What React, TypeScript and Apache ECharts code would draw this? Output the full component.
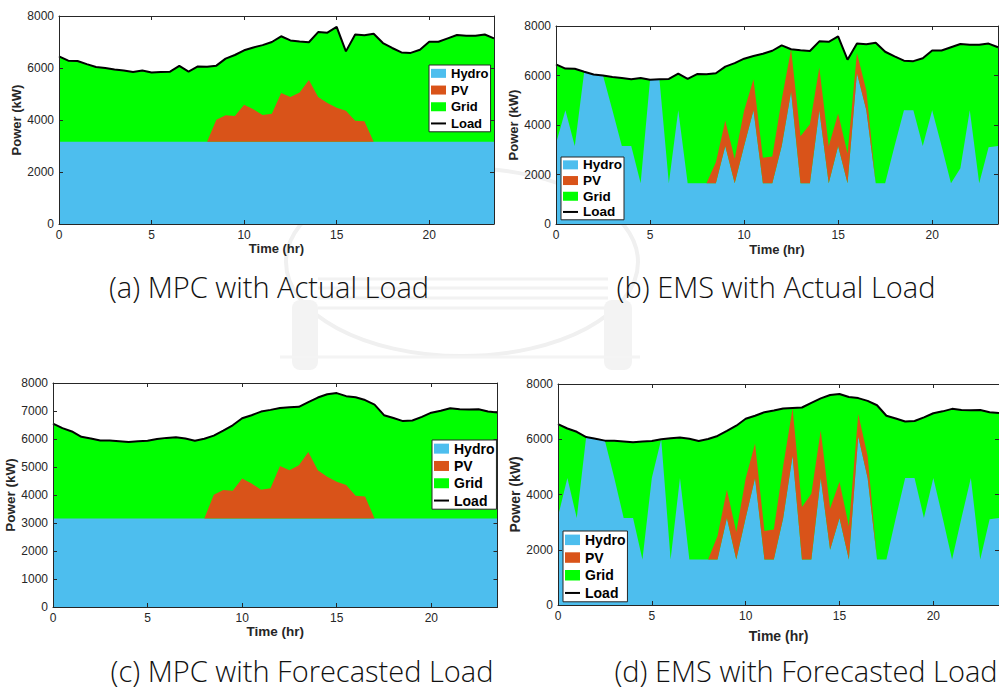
import React, { useEffect, useRef } from 'react';
import * as echarts from 'echarts';

const timeHr = [0, 0.5, 1, 1.5, 2, 2.5, 3, 3.5, 4, 4.5, 5, 5.5, 6, 6.5, 7, 7.5, 8, 8.5, 9, 9.5, 10, 10.5, 11, 11.5,
  12, 12.5, 13, 13.5, 14, 14.5, 15, 15.5, 16, 16.5, 17, 17.5, 18, 18.5, 19, 19.5, 20, 20.5, 21, 21.5, 22, 22.5, 23, 23.5];

const loadActual = [6450, 6280, 6270, 6150, 6040, 6000, 5940, 5900, 5850, 5900, 5830, 5850, 5860, 6080, 5860, 6060,
  6050, 6090, 6360, 6500, 6680, 6790, 6880, 7000, 7220, 7060, 7020, 6990, 7380, 7360, 7580, 6640,
  7290, 7260, 7320, 6960, 6770, 6600, 6580, 6700, 7010, 7010, 7140, 7270, 7240, 7240, 7290, 7140];

const loadForecast = [6550, 6390, 6270, 6080, 6020, 5950, 5950, 5920, 5890, 5920, 5940, 6000, 6040, 6060, 6020, 5940,
  6010, 6120, 6300, 6490, 6740, 6850, 6980, 7040, 7110, 7130, 7150, 7320, 7480, 7600, 7640, 7530,
  7490, 7390, 7230, 6850, 6750, 6640, 6660, 6790, 6940, 7010, 7100, 7060, 7050, 7060, 6980, 6950];

const pvPower = [0, 0, 0, 0, 0, 0, 0, 0, 0, 0, 0, 0, 0, 0, 0, 0,
  0, 850, 1020, 990, 1430, 1250, 1030, 1080, 1880, 1720, 1900, 2380, 1720, 1490, 1310, 1200,
  810, 790, 0, 0, 0, 0, 0, 0, 0, 0, 0, 0, 0, 0, 0, 0];

const hydroMpc = [3160, 3160, 3160, 3160, 3160, 3160, 3160, 3160, 3160, 3160, 3160, 3160, 3160, 3160, 3160, 3160,
  3160, 3160, 3160, 3160, 3160, 3160, 3160, 3160, 3160, 3160, 3160, 3160, 3160, 3160, 3160, 3160,
  3160, 3160, 3160, 3160, 3160, 3160, 3160, 3160, 3160, 3160, 3160, 3160, 3160, 3160, 3160, 3160];

const hydroEmsActual = [3250, 4600, 3150, 6150, 6040, 6000, 4600, 3150, 3150, 1650, 5830, 5850, 1650, 4600, 1650, 1650,
  1650, 1650, 3150, 1650, 3150, 4600, 1650, 1650, 3150, 5340, 1650, 1650, 4600, 1650, 3150, 1650,
  6100, 4600, 1650, 1650, 3150, 4600, 4600, 3150, 4600, 3150, 1650, 2250, 4600, 1650, 3100, 3150];

const hydroEmsForecast = [3200, 4600, 3150, 6080, 6020, 5950, 4600, 3150, 3150, 1650, 4600, 6000, 1650, 4600, 1650, 1650,
  1650, 1650, 3150, 1650, 3150, 4600, 1650, 1650, 3150, 5400, 1650, 1650, 4600, 2000, 3150, 1650,
  6100, 4600, 1650, 1650, 3150, 4600, 4600, 3150, 4600, 3150, 1650, 3150, 4600, 1650, 3100, 3150];

const captions = ['(a) MPC with Actual Load', '(b) EMS with Actual Load', '(c) MPC with Forecasted Load', '(d) EMS with Forecasted Load'];
const seriesNames = ['Hydro', 'PV', 'Grid', 'Load'];
const yTickStep = [2000, 2000, 1000, 2000];

const COLORS = { Hydro: '#4DBEEE', PV: '#D95319', Grid: '#00FF00', Load: '#000000' };
const AX = '#262626';
const FONT = 'Arial, "Liberation Sans", sans-serif';

const panels = [
  { hydro: hydroMpc, load: loadActual, grid: { left: 59, top: 16, width: 435, height: 208 }, xGap: 18, yGap: 29, nameSize: 13,
    legend: { left: 429, top: 65, fontSize: 13, lineHeight: 16.7, itemHeight: 9 }, cap: { x: 269, y: 272 } },
  { hydro: hydroEmsActual, load: loadActual, grid: { left: 556, top: 26, width: 442, height: 198 }, xGap: 19, yGap: 30, nameSize: 13,
    legend: { left: 561, top: 157, fontSize: 13.5, lineHeight: 15.7, itemHeight: 9 }, cap: { x: 776, y: 272 } },
  { hydro: hydroMpc, load: loadForecast, grid: { left: 53, top: 383, width: 444.5, height: 224 }, xGap: 12, yGap: 30, nameSize: 13.5,
    legend: { left: 432, top: 440, fontSize: 14, lineHeight: 17.3, itemHeight: 10 }, cap: { x: 302, y: 656 } },
  { hydro: hydroEmsForecast, load: loadForecast, grid: { left: 558, top: 384, width: 446, height: 221 }, xGap: 24, yGap: 30, nameSize: 14,
    legend: { left: 563, top: 531, fontSize: 14, lineHeight: 17.7, itemHeight: 10.5 }, cap: { x: 806, y: 656 } },
];

const tickFn = (index: number) => index % 10 === 0;

function watermark() {
  return [
    { type: 'ellipse', z: -10, silent: true, shape: { cx: 462, cy: 262, rx: 176, ry: 94 },
      style: { fill: 'none', stroke: '#f0f0f0', lineWidth: 4 } },
    ...[279, 288, 298, 308].map((y) => ({ type: 'line', z: -10, silent: true,
      shape: { x1: 318, y1: y, x2: 608, y2: y }, style: { stroke: '#f2f2f2', lineWidth: 3 } })),
    { type: 'rect', z: -10, silent: true, shape: { x: 292, y: 300, width: 26, height: 70, r: 8 }, style: { fill: '#f3f3f3' } },
    { type: 'rect', z: -10, silent: true, shape: { x: 604, y: 300, width: 28, height: 70, r: 8 }, style: { fill: '#f3f3f3' } },
    { type: 'line', z: -10, silent: true, shape: { x1: 280, y1: 357, x2: 640, y2: 357 }, style: { stroke: '#f4f4f4', lineWidth: 3 } },
  ];
}

function buildOption() {
  const grid: any[] = [];
  const xAxis: any[] = [];
  const yAxis: any[] = [];
  const series: any[] = [];
  const legend: any[] = [];
  const title: any[] = [];
  const cats = timeHr.map((t) => String(t));

  panels.forEach((p, i) => {
    grid.push({ ...p.grid, containLabel: false });
    const lineStyle = { color: AX, width: 1 };
    xAxis[i] = {
      type: 'category', gridIndex: i, data: cats, boundaryGap: false, position: 'bottom', z: 10,
      axisLine: { show: true, onZero: false, lineStyle },
      axisTick: { show: true, inside: true, length: 4, interval: tickFn, lineStyle },
      axisLabel: { interval: tickFn, margin: 5, color: AX, fontSize: 12, fontFamily: FONT },
      splitLine: { show: false },
      name: 'Time (hr)', nameLocation: 'middle', nameGap: p.xGap,
      nameTextStyle: { fontWeight: 'bold', fontSize: p.nameSize, color: AX, fontFamily: FONT },
    };
    xAxis[i + 4] = {
      type: 'category', gridIndex: i, data: cats, boundaryGap: false, position: 'top', z: 10,
      axisLine: { show: true, onZero: false, lineStyle },
      axisTick: { show: true, inside: true, length: 4, interval: tickFn, lineStyle },
      axisLabel: { show: false }, splitLine: { show: false },
    };
    yAxis[i] = {
      type: 'value', gridIndex: i, min: 0, max: 8000, interval: yTickStep[i], position: 'left', z: 10,
      axisLine: { show: true, lineStyle },
      axisTick: { show: true, inside: true, length: 4, lineStyle },
      axisLabel: { margin: 5, color: AX, fontSize: 12, fontFamily: FONT, formatter: (v: number) => String(v) },
      splitLine: { show: false },
      name: 'Power (kW)', nameLocation: 'middle', nameGap: p.yGap, nameRotate: 90,
      nameTextStyle: { fontWeight: 'bold', fontSize: p.nameSize, color: AX, fontFamily: FONT },
    };
    yAxis[i + 4] = {
      type: 'value', gridIndex: i, min: 0, max: 8000, interval: yTickStep[i], position: 'right', z: 10,
      axisLine: { show: true, lineStyle },
      axisTick: { show: true, inside: true, length: 4, lineStyle },
      axisLabel: { show: false }, splitLine: { show: false },
    };

    const base = { type: 'line', xAxisIndex: i, yAxisIndex: i, symbol: 'none', showSymbol: false, silent: true, smooth: false };
    series.push({ ...base, name: 'Grid', data: p.load, color: COLORS.Grid, lineStyle: { width: 0 },
      areaStyle: { color: COLORS.Grid, opacity: 1 }, z: 2 });
    series.push({ ...base, name: 'Hydro', data: p.hydro, stack: 'panel' + i, color: COLORS.Hydro, lineStyle: { width: 0 },
      areaStyle: { color: COLORS.Hydro, opacity: 1 }, z: 3 });
    series.push({ ...base, name: 'PV', data: pvPower, stack: 'panel' + i, color: COLORS.PV, lineStyle: { width: 0 },
      areaStyle: { color: COLORS.PV, opacity: 1 }, z: 3 });
    series.push({ ...base, name: 'Load', data: p.load, color: COLORS.Load, lineStyle: { width: 2, color: COLORS.Load }, z: 4 });

    const lg = p.legend;
    const ih = lg.itemHeight;
    const loadIcon = `path://M0,0M0,${(ih / 2 - 1).toFixed(2)}L20,${(ih / 2 - 1).toFixed(2)}L20,${(ih / 2 + 1).toFixed(2)}L0,${(ih / 2 + 1).toFixed(2)}ZM20,${ih}`;
    legend.push({
      orient: 'vertical', left: lg.left, top: lg.top, padding: [0, 2, 0, 2], itemWidth: 15, itemHeight: ih, itemGap: 0,
      symbolKeepAspect: false, backgroundColor: '#ffffff', borderColor: AX, borderWidth: 1, borderRadius: 0,
      selectedMode: false, z: 20,
      textStyle: { fontFamily: FONT, fontWeight: 'bold', fontSize: lg.fontSize, lineHeight: lg.lineHeight, color: '#000' },
      data: seriesNames.map((n) => ({
        name: n,
        icon: n === 'Load' ? loadIcon : 'rect',
        itemStyle: { color: (COLORS as any)[n], borderWidth: 0, opacity: 1 },
      })),
    });

    title.push({
      text: captions[i], left: p.cap.x, top: p.cap.y, textAlign: 'center', padding: 0,
      textStyle: { fontFamily: '"Open Sans", "Noto Sans", sans-serif', fontWeight: 300, fontSize: 29, color: '#111' },
    });
  });

  return { animation: false, backgroundColor: '#ffffff', grid, xAxis, yAxis, series, legend, title, graphic: watermark() };
}

export default function App() {
  const ref = useRef<HTMLDivElement>(null);
  useEffect(() => {
    const chart = echarts.init(ref.current as HTMLDivElement, null, { renderer: 'svg' });
    chart.setOption(buildOption() as any);
    return () => chart.dispose();
  }, []);
  return <div ref={ref} style={{ position: 'fixed', left: 0, top: 0, width: 999, height: 689, background: '#fff' }} />;
}
